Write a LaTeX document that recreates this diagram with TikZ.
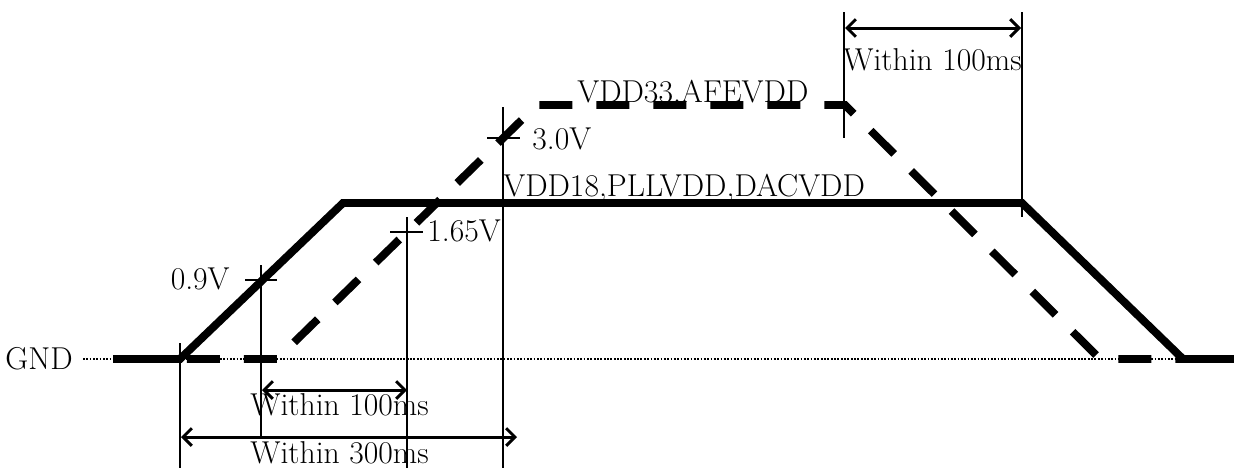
\documentclass[tikz,border=0pt]{standalone}
\usepackage{tikz}
\usetikzlibrary{arrows.meta}

\begin{document}
\begin{tikzpicture}[
  x=0.02cm, y=-0.02cm,
  font=\fontsize{18}{21}\selectfont,
  rail/.style={line width=4.5pt, line join=miter},
  railsolid/.style={rail},
  raildash/.style={rail, dash pattern=on 0.66cm off 0.48cm, dash phase=0.8cm},
  gndline/.style={line width=1.5pt, dash pattern=on 1pt off 0.9pt},
  guide/.style={line width=1.1pt},
  timearrow/.style={line width=1.7pt, {Straight Barb[length=5pt,width=10pt]}-{Straight Barb[length=5pt,width=10pt]}},
  lbl/.style={inner sep=0pt},
]
% page is 1234 x 468, one unit = one pixel of the reference
\useasboundingbox (0,0) rectangle (1234,468);

\def\gndY{359}   % ground level
\def\lowY{203}   % VDD18 level
\def\highY{105}  % VDD33 level

% Key points of the two rails
\coordinate (start)   at (113,\gndY);
\coordinate (rampA)   at (180,\gndY);
\coordinate (topA)    at (343,\lowY);
\coordinate (endA)    at (1022,\lowY);
\coordinate (downA)   at (1183,\gndY);
\coordinate (stop)    at (1234,\gndY);
\coordinate (rampB)   at (277,\gndY);
\coordinate (topB)    at (537,\highY);
\coordinate (endB)    at (845,\highY);
\coordinate (downB)   at (1100,\gndY);

% Ground
\node[lbl, anchor=east] (gnd) at (73,\gndY) {GND};
\coordinate (gndend) at (1234,\gndY);
\draw[gndline] (83,\gndY) -- (gndend);

% VDD33,AFEVDD (dashed) and VDD18,PLLVDD,DACVDD (solid)
\draw[raildash]  (start) -- (rampB) -- (topB) -- (endB) -- (downB) -- (downA);
\draw[railsolid] (start) -- (rampA) -- (topA) -- (endA) -- (downA) -- (stop);

\node[lbl, anchor=base west] (vdd33) at (577,102) {VDD33,AFEVDD};
\node[lbl, anchor=base west] (vdd18) at (503,196) {VDD18,PLLVDD,DACVDD};

% Thresholds with their guide lines
\coordinate (g1top) at (180,343);  \coordinate (g1bot) at (180,468);
\coordinate (g2top) at (261,265);  \coordinate (g2bot) at (261,437);
\coordinate (g3top) at (407,217);  \coordinate (g3bot) at (407,468);
\coordinate (g4top) at (503,107);  \coordinate (g4bot) at (503,468);
\coordinate (g5top) at (844,12);   \coordinate (g5bot) at (844,138);
\coordinate (g6top) at (1022,12);  \coordinate (g6bot) at (1022,217);
\foreach \g in {1,...,6}
  \draw[guide] (g\g top) -- (g\g bot);

\draw[guide] (245,280) -- (277,280);
\draw[guide] (390,232) -- (423,232);
\draw[guide] (487,138) -- (520,138);

\node[lbl, anchor=base east] (v09)  at (230,289.5) {0.9V};
\node[lbl, anchor=base west] (v165) at (427,241.5) {1.65V};
\node[lbl, anchor=base west] (v30)  at (532,149.5) {3.0V};

% Timing requirements
\coordinate (t1a) at (845,28);  \coordinate (t1b) at (1021,28);
\coordinate (t2a) at (262,390); \coordinate (t2b) at (407,390);
\coordinate (t3a) at (181,437); \coordinate (t3b) at (517,437);
\draw[timearrow] (t1a) -- (t1b);
\draw[timearrow] (t2a) -- (t2b);
\draw[timearrow] (t3a) -- (t3b);

\node[lbl, anchor=base west] (off100) at (843,70)  {Within 100ms};
\node[lbl, anchor=base west] (on100)  at (250,415) {Within 100ms};
\node[lbl, anchor=base west] (on300)  at (250,463) {Within 300ms};

\end{tikzpicture}
\end{document}
